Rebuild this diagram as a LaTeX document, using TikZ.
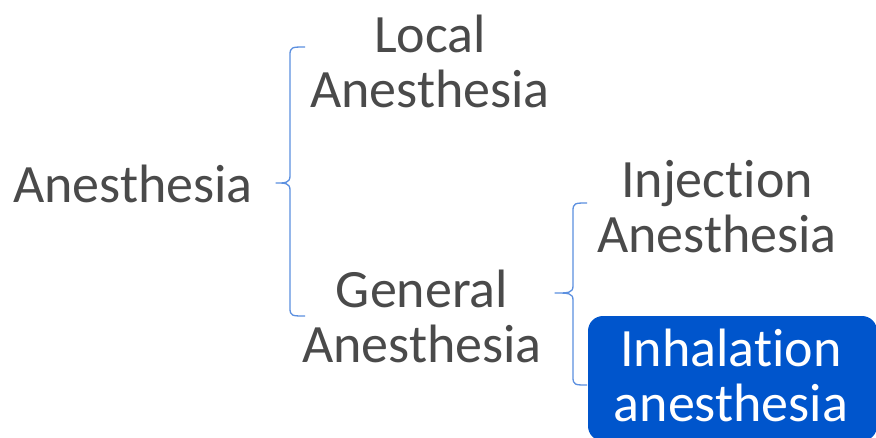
\documentclass[tikz,border=0pt]{standalone}
\usepackage{fontspec}
\setmainfont[Ligatures=NoCommon]{Carlito}
\definecolor{txtgray}{HTML}{4A4A4A}
\definecolor{bracecol}{HTML}{5C90E0}
\definecolor{boxblue}{HTML}{0055CC}
\begin{document}
\begin{tikzpicture}[x=1pt,y=-1pt,
  lbl/.style={font=\fontsize{54}{55}\selectfont, text=txtgray, align=center, inner sep=0pt},
  brace/.style={draw=bracecol, line width=1.3pt, line join=round}]
\useasboundingbox (0,0) rectangle (876,437);
\fill[white] (0,0) rectangle (876,437);
\node[lbl] (anes) at (133,184) {Anesthesia};
\node[lbl] (local) at (430,61) {Local\\Anesthesia};
\node[lbl] (general) at (422,316) {General\\Anesthesia};
\node[lbl] (inj) at (717,207) {Injection\\Anesthesia};
\fill[boxblue, rounded corners=15pt] (588,316) rectangle (877,441);
\node[lbl, text=white] (inh) at (731,375) {Inhalation\\anesthesia};
% brace 1
\coordinate (b1tip) at (276,183);
\coordinate (b1top) at (305,47);
\coordinate (b1bot) at (305,316);
\draw[brace] (b1top) .. controls (292,47) and (290,47) .. (290,55) -- (290,176)
  .. controls (290,183) and (285,183) .. (b1tip)
  .. controls (285,183) and (290,183) .. (290,190) -- (290,308)
  .. controls (290,316) and (292,316) .. (b1bot);
% brace 2
\coordinate (b2tip) at (555,293);
\coordinate (b2top) at (587,203);
\coordinate (b2bot) at (587,385);
\draw[brace] (b2top) .. controls (575,203) and (573,203) .. (573,211) -- (573,286)
  .. controls (573,293) and (568,293) .. (b2tip)
  .. controls (568,293) and (573,293) .. (573,300) -- (573,377)
  .. controls (573,385) and (575,385) .. (b2bot);
\end{tikzpicture}
\end{document}
